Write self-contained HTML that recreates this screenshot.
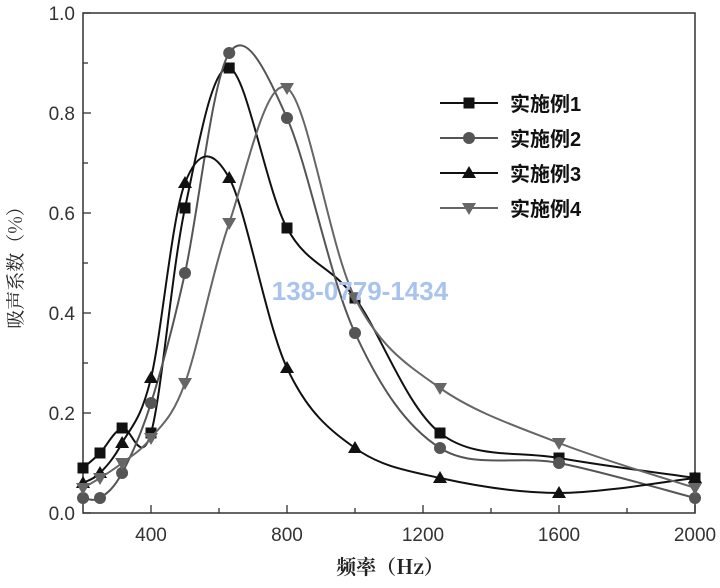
<!DOCTYPE html>
<html><head><meta charset="utf-8"><style>
body{margin:0;background:#fff;}
svg text{font-family:"Liberation Sans","Noto Sans CJK SC",sans-serif;}
</style></head><body>
<svg id="c" width="720" height="583" viewBox="0 0 720 583">
<g id="axes"></g><g id="series"></g>
<text x="360" y="300" text-anchor="middle" font-family="Liberation Serif" font-size="26" font-weight="bold" fill="#a8c4ee">138-0779-1434</text>
<text x="390" y="574" text-anchor="middle" font-size="20" font-weight="bold" fill="#222" style="font-family:'Noto Serif CJK SC','Liberation Serif',serif">频率（Hz）</text>
<text transform="translate(22,263) rotate(-90)" text-anchor="middle" font-size="19" fill="#222" style="font-family:'Noto Serif CJK SC','Liberation Serif',serif">吸声系数（%）</text>
<g id="legend"></g>
</svg>
<script>
const freqs=[200,250,315,400,500,630,800,1000,1250,1600,2000];
const s1=[0.09,0.12,0.17,0.16,0.61,0.89,0.57,0.43,0.16,0.11,0.07];
const s2=[0.03,0.03,0.08,0.22,0.48,0.92,0.79,0.36,0.13,0.10,0.03];
const s3=[0.06,0.08,0.14,0.27,0.66,0.67,0.29,0.13,0.07,0.04,0.07];
const s4=[0.05,0.07,0.10,0.15,0.26,0.58,0.85,0.43,0.25,0.14,0.05];
const names=["实施例1","实施例2","实施例3","实施例4"];
const xTicks=[400,800,1200,1600,2000];
const yTicks=[0.0,0.2,0.4,0.6,0.8,1.0];
const NS="http://www.w3.org/2000/svg";
const L=83,R=695,T=13,B=513,xmin=200,xmax=2000;
const X=v=>L+(v-xmin)/(xmax-xmin)*(R-L);
const Y=v=>B-v*(B-T);
function mk(t,a,p){const e=document.createElementNS(NS,t);for(const k in a)e.setAttribute(k,a[k]);(p||document.getElementById('axes')).appendChild(e);return e;}
const ax=document.getElementById('axes');
const frame=mk('rect',{x:L,y:T,width:R-L,height:B-T,fill:'none',stroke:'#333','stroke-width':1.5});


for(let v=0;v<=1.0001;v+=0.1){const len=Math.round(v*10)%2==0?8:5;mk('line',{x1:L,x2:L+len,y1:Y(v),y2:Y(v),stroke:'#333','stroke-width':1.3});}
for(let f=400;f<=2000;f+=200){const len=f%400==0?8:5;mk('line',{x1:X(f),x2:X(f),y1:B,y2:B-len,stroke:'#333','stroke-width':1.3});}
yTicks.forEach(v=>{const t=mk('text',{x:L-8,y:Y(v)+7,'text-anchor':'end','font-size':19,fill:'#333'});t.textContent=v.toFixed(1);

});
xTicks.forEach(v=>{const t=mk('text',{x:X(v),y:B+28,'text-anchor':'middle','font-size':19,fill:'#333'});t.textContent=v;

});
function path(pts){let d=`M${pts[0][0]},${pts[0][1]}`;for(let i=0;i<pts.length-1;i++){const p0=pts[i-1]||pts[i],p1=pts[i],p2=pts[i+1],p3=pts[i+2]||p2;
d+=` C${p1[0]+(p2[0]-p0[0])/6},${p1[1]+(p2[1]-p0[1])/6} ${p2[0]-(p3[0]-p1[0])/6},${p2[1]-(p3[1]-p1[1])/6} ${p2[0]},${p2[1]}`;}return d;}
function marker(type,x,y,col,p){let e;
if(type==0)e=mk('rect',{x:x-5.5,y:y-5.5,width:11,height:11,fill:col},p);
else if(type==1)e=mk('circle',{cx:x,cy:y,r:6,fill:col},p);
else if(type==2)e=mk('polygon',{points:`${x},${y-7} ${x-7},${y+5} ${x+7},${y+5}`,fill:col},p);
else e=mk('polygon',{points:`${x},${y+7} ${x-7},${y-5} ${x+7},${y-5}`,fill:col},p);return e;}
const data=[s1,s2,s3,s4],cols=['#111','#555','#111','#666'];
const sg=document.getElementById('series'),lg=document.getElementById('legend');
data.forEach((s,i)=>{const pts=freqs.map((f,j)=>[X(f),Y(s[j])]);
const g=mk('g',{},sg);


mk('path',{d:path(pts),fill:'none',stroke:cols[i],'stroke-width':2},g);
pts.forEach(p=>{const m=marker(i,p[0],p[1],cols[i],g);

});
const ly=103+i*35;const le=mk('g',{},lg);


mk('line',{x1:440,x2:498,y1:ly,y2:ly,stroke:cols[i],'stroke-width':2},le);
marker(i,469,ly,cols[i],le);
const t=mk('text',{x:510,y:ly+8,'font-size':20,'font-weight':'bold',fill:'#111'},le);t.textContent=names[i];});
</script>
</body></html>
